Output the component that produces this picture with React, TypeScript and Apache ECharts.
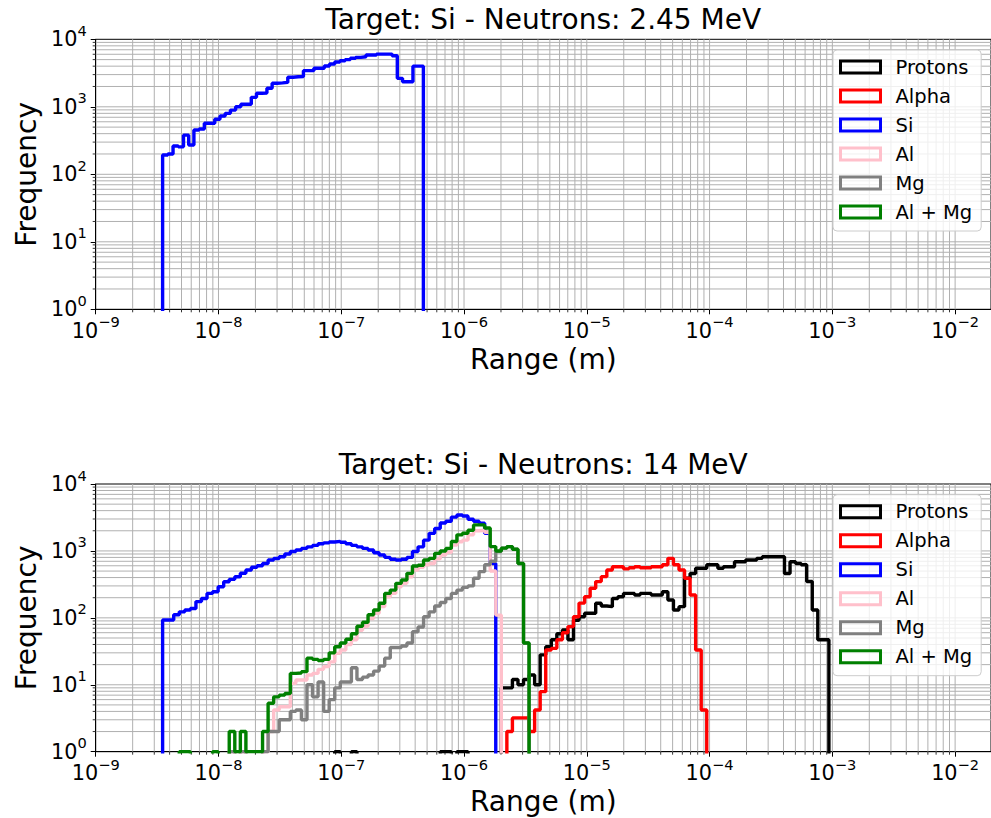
import React, { useEffect, useRef } from 'react';
import * as echarts from 'echarts';

// ---------------- data ----------------
const FONT = 'DejaVu Sans';
const SERIES_NAMES = ['Protons', 'Alpha', 'Si', 'Al', 'Mg', 'Al + Mg'];
const SERIES_COLORS = ['#000000', '#ff0000', '#0000ff', '#ffc0cb', '#808080', '#008000'];
const TITLES = ['Target: Si - Neutrons: 2.45 MeV', 'Target: Si - Neutrons: 14 MeV'];
const X_LABEL = 'Range (m)';
const Y_LABEL = 'Frequency';
const X_MIN = 1e-9;
const X_MAX = 0.0196;
const Y_MIN = 1;
const Y_MAX = 1e4;
const GRID_MULTIPLIERS = [1, 2, 3, 4, 5, 6, 7, 8, 9];
const X_DECADES = [-9, -8, -7, -6, -5, -4, -3, -2];
const Y_DECADES = [0, 1, 2, 3];

// log10 of first / last bin edge and number of bins (log-spaced histogram bins)
const TOP_BIN_LOG_START = -8.455;
const TOP_BIN_LOG_END = -6.331;
const TOP_BIN_COUNT = 50;
const BOTTOM_BIN_LOG_START = -8.455;
const BOTTOM_BIN_LOG_END = -3.028;
const BOTTOM_BIN_COUNT = 120;

// Top panel (2.45 MeV): only Si recoils
const TOP_SI = [
  193, 200, 262, 255, 380, 272, 453, 470, 570, 570,
  653, 731, 800, 893, 1000, 1090, 1090, 1380, 1585, 1600,
  1880, 2235, 2260, 2300, 2735, 2790, 2800, 3430, 3430, 3720,
  3720, 4030, 4310, 4610, 4800, 5000, 5230, 5400, 5520, 5850,
  5850, 6040, 6040, 6040, 5700, 2640, 2350, 2350, 4000, 4000,
];

// Bottom panel (14 MeV): counts per bin (trailing empty bins omitted)
const PROTONS = [
  0, 0, 0, 0, 0, 0, 0, 0, 0, 0,
  0, 0, 0, 0, 0, 0, 0, 0, 0, 0,
  0, 0, 0, 0, 0, 0, 0, 0, 0, 0,
  0, 1, 0, 0, 1, 0, 0, 0, 0, 0,
  0, 0, 0, 0, 0, 0, 0, 0, 0, 0,
  1, 1, 0, 1, 1, 0, 0, 0, 0, 0,
  0, 9, 9, 12, 10, 12, 14, 10, 28, 37,
  47, 58, 66, 47, 92, 104, 117, 117, 165, 150,
  147, 195, 207, 232, 232, 220, 232, 232, 220, 220,
  245, 185, 131, 147, 390, 460, 550, 550, 620, 620,
  550, 580, 580, 690, 690, 730, 730, 775, 820, 820,
  820, 820, 460, 690, 650, 620, 350, 131, 47, 47,
];
const ALPHA = [
  0, 0, 0, 0, 0, 0, 0, 0, 0, 0,
  0, 0, 0, 0, 0, 0, 0, 0, 0, 0,
  0, 0, 0, 0, 0, 0, 0, 0, 0, 0,
  0, 0, 0, 0, 0, 0, 0, 0, 0, 0,
  0, 0, 0, 0, 0, 0, 0, 0, 0, 0,
  0, 0, 0, 0, 0, 0, 0, 0, 0, 0,
  0, 0, 2, 3.2, 3.2, 3.2, 2, 4.2, 7.9, 33,
  35, 47, 60, 74, 104, 166, 207, 277, 348, 413,
  520, 580, 580, 540, 560, 580, 560, 560, 580, 580,
  620, 775, 620, 520, 390, 220, 33, 4.2,
];
const SI = [
  93, 93, 111, 123, 131, 138, 175, 195, 232, 245,
  292, 346, 376, 412, 463, 520, 570, 600, 650, 730,
  770, 820, 900, 980, 1030, 1090, 1150, 1210, 1280, 1320,
  1360, 1390, 1350, 1280, 1210, 1150, 1090, 1030, 940, 870,
  800, 750, 730, 750, 800, 980, 1150, 1450, 1830, 2160,
  2620, 2770, 3200, 3440, 3330, 2970, 2770, 2600, 1830, 650,
];
const AL = [
  0, 0, 0, 0, 0, 0, 0, 0, 0, 0,
  0, 0, 1, 0, 1, 0, 0, 0, 1, 2,
  4.2, 4.7, 4.7, 10.5, 11.8, 11.8, 14, 14.8, 17, 18.7,
  22, 29.5, 33, 40, 47, 65, 75, 98, 117, 147,
  207, 232, 292, 328, 412, 520, 570, 620, 650, 760,
  870, 950, 1220, 1370, 1450, 1740, 2000, 2040, 1900, 500,
  110,
];
const MG = [
  0, 0, 0, 0, 0, 0, 0, 0, 0, 0,
  0, 0, 1, 0, 1, 0, 0, 0, 1, 2,
  2, 3, 3, 4, 4.2, 3, 10, 6.6, 11, 4,
  6, 9, 11, 11, 18, 12, 13, 14, 16, 19,
  25, 36, 36, 38, 42, 62, 73, 104, 123, 150,
  170, 195, 232, 260, 285, 300, 390, 490, 620, 700,
  980, 1100, 1160, 1060, 650, 42,
];
const AL_MG = [
  0, 0, 0, 1, 1, 0, 0, 0, 0, 1,
  0, 0, 2, 1, 2, 1, 1, 1, 2, 5.3,
  6.6, 7, 7.4, 14.8, 15, 15.7, 25, 24, 23, 24,
  30, 37, 42, 48, 58, 75, 86, 111, 131, 165,
  232, 260, 328, 367, 462, 595, 610, 730, 775, 920,
  1000, 1090, 1380, 1740, 1840, 2040, 2450, 2450, 2200, 1160,
  1000, 1100, 1160, 1060, 650, 42,
];
const BOTTOM_SERIES = [PROTONS, ALPHA, SI, AL, MG, AL_MG];

// ---------------- helpers ----------------
const FLOOR = 0.01; // empty bins fall below the axis and get clipped

function histPoints(counts: number[], logStart: number, logEnd: number, nBins: number) {
  const w = (logEnd - logStart) / nBins;
  const edge = (i: number) => Math.pow(10, logStart + i * w);
  const pts: number[][] = [[edge(0), FLOOR]];
  for (let i = 0; i < nBins; i++) {
    const c = counts[i] ?? 0;
    pts.push([edge(i), c > 0 ? c : FLOOR]);
  }
  pts.push([edge(nBins), FLOOR]);
  return pts;
}

const supLabel = (v: number) => {
  const e = Math.round(Math.log10(v));
  return `{b|10}{s|${e < 0 ? '\u2212' + -e : e}}`;
};
const RICH = {
  b: { fontFamily: FONT, fontSize: 20.8, lineHeight: 27, verticalAlign: 'bottom', color: '#000' },
  s: { fontFamily: FONT, fontSize: 14.6, lineHeight: 15, verticalAlign: 'top', color: '#000' },
};

const GRID_COLOR = '#b0b0b0';

const X_GRID_VALUES: number[][] = [];
X_DECADES.forEach((d) =>
  GRID_MULTIPLIERS.forEach((m) => {
    const v = m * Math.pow(10, d);
    if (v > X_MIN * 1.0001 && v < X_MAX) X_GRID_VALUES.push([v, Y_MIN, m === 1 ? 1 : 0]);
  })
);
const Y_GRID_VALUES: number[][] = [];
Y_DECADES.forEach((d) =>
  GRID_MULTIPLIERS.forEach((m) => {
    const v = m * Math.pow(10, d);
    if (v > Y_MIN * 1.0001 && v < Y_MAX) Y_GRID_VALUES.push([X_MIN, v, m === 1 ? 1 : 0]);
  })
);

function gridSeries(gi: number) {
  return [
    {
      type: 'custom',
      name: '_xgrid' + gi,
      xAxisIndex: gi,
      yAxisIndex: gi,
      silent: true,
      clip: false,
      z: 1,
      data: X_GRID_VALUES,
      encode: { x: 0, y: 1 },
      renderItem: (_p: any, api: any) => {
        const v = api.value(0);
        const major = api.value(2) === 1;
        const b = api.coord([v, Y_MIN]);
        const t = api.coord([v, Y_MAX]);
        const children: any[] = [
          { type: 'line', shape: { x1: b[0], y1: b[1], x2: t[0], y2: t[1] }, style: { stroke: GRID_COLOR, lineWidth: 1 } },
        ];
        if (!major)
          children.push({ type: 'line', shape: { x1: b[0], y1: b[1], x2: b[0], y2: b[1] + 3 }, style: { stroke: '#000', lineWidth: 0.8 } });
        return { type: 'group', children };
      },
    },
    {
      type: 'custom',
      name: '_ygrid' + gi,
      xAxisIndex: gi,
      yAxisIndex: gi,
      silent: true,
      clip: false,
      z: 1,
      data: Y_GRID_VALUES,
      encode: { x: 0, y: 1 },
      renderItem: (_p: any, api: any) => {
        const v = api.value(1);
        const major = api.value(2) === 1;
        const l = api.coord([X_MIN, v]);
        const r = api.coord([X_MAX, v]);
        const children: any[] = [
          { type: 'line', shape: { x1: l[0], y1: l[1], x2: r[0], y2: r[1] }, style: { stroke: GRID_COLOR, lineWidth: 1 } },
        ];
        if (!major)
          children.push({ type: 'line', shape: { x1: l[0], y1: l[1], x2: l[0] - 3, y2: l[1] }, style: { stroke: '#000', lineWidth: 0.8 } });
        return { type: 'group', children };
      },
    },
  ];
}

function histSeries(name: string, color: string, gi: number, pts: number[][]) {
  return {
    type: 'line',
    name,
    xAxisIndex: gi,
    yAxisIndex: gi,
    data: pts,
    step: 'end',
    showSymbol: false,
    symbol: 'none',
    silent: true,
    clip: true,
    z: 3,
    lineStyle: { color, width: 3.4 },
    itemStyle: { color },
    emphasis: { disabled: true },
  };
}

function buildOption() {
  const gridLeft = 95.7;
  const gridWidth = 897;
  const gridTops = [39.3, 484];
  const gridHeights = [270, 267.7];
  const legendTops = [50, 494.7];

  const xAxes = [0, 1].map((gi) => ({
    type: 'log',
    logBase: 10,
    gridIndex: gi,
    min: X_MIN,
    max: X_MAX,
    name: X_LABEL,
    nameLocation: 'middle',
    nameGap: 36,
    nameTextStyle: { fontFamily: FONT, fontSize: 28, color: '#000' },
    axisLine: { show: true, onZero: false, lineStyle: { color: '#000', width: 1 } },
    axisTick: { show: true, inside: false, length: 5, lineStyle: { color: '#000', width: 1 } },
    axisLabel: { show: true, margin: 5, showMaxLabel: false, formatter: supLabel, rich: RICH },
    splitLine: { show: false },
  }));
  const yAxes = [0, 1].map((gi) => ({
    type: 'log',
    logBase: 10,
    gridIndex: gi,
    min: Y_MIN,
    max: Y_MAX,
    name: Y_LABEL,
    nameLocation: 'middle',
    nameGap: 51,
    nameTextStyle: { fontFamily: FONT, fontSize: 28, color: '#000' },
    axisLine: { show: true, onZero: false, lineStyle: { color: '#000', width: 1 } },
    axisTick: { show: true, inside: false, length: 5, lineStyle: { color: '#000', width: 1 } },
    axisLabel: { show: true, margin: 9, padding: [0, 0, 6, 0], formatter: supLabel, rich: RICH },
    splitLine: { show: false },
  }));

  const legendData = SERIES_NAMES.map((n, i) => ({
    name: n,
    itemStyle: { color: 'rgba(0,0,0,0)', borderColor: SERIES_COLORS[i], borderWidth: 3 },
  }));
  const legends = legendTops.map((top) => ({
    orient: 'vertical',
    left: 833,
    top,
    data: legendData,
    icon: 'rect',
    itemWidth: 40,
    itemHeight: 12,
    itemGap: 9,
    selectedMode: false,
    backgroundColor: 'rgba(255,255,255,0.8)',
    borderColor: '#cccccc',
    borderWidth: 1,
    borderRadius: 4,
    padding: [7, 9, 9, 6],
    textStyle: { fontFamily: FONT, fontSize: 19.5, color: '#000', lineHeight: 20, padding: [0, 0, 0, 10] },
  }));

  const series: any[] = [];
  series.push(...gridSeries(0), ...gridSeries(1));
  series.push(
    histSeries('Si', SERIES_COLORS[2], 0, histPoints(TOP_SI, TOP_BIN_LOG_START, TOP_BIN_LOG_END, TOP_BIN_COUNT))
  );
  BOTTOM_SERIES.forEach((counts, i) => {
    series.push(
      histSeries(
        SERIES_NAMES[i],
        SERIES_COLORS[i],
        1,
        histPoints(counts, BOTTOM_BIN_LOG_START, BOTTOM_BIN_LOG_END, BOTTOM_BIN_COUNT)
      )
    );
  });

  return {
    animation: false,
    backgroundColor: '#ffffff',
    title: TITLES.map((t, i) => ({
      text: t,
      left: gridLeft + gridWidth / 2 - 1,
      top: gridTops[i] - 34,
      textAlign: 'center',
      padding: 0,
      textStyle: { fontFamily: FONT, fontSize: 28, fontWeight: 'normal', color: '#000' },
    })),
    legend: legends,
    grid: gridTops.map((top, i) => ({
      left: gridLeft,
      top,
      width: gridWidth,
      height: gridHeights[i],
      show: true,
      borderColor: '#000',
      borderWidth: 1,
      backgroundColor: 'rgba(0,0,0,0)',
      containLabel: false,
    })),
    xAxis: xAxes,
    yAxis: yAxes,
    series,
  };
}

export default function App() {
  const ref = useRef<HTMLDivElement>(null);
  useEffect(() => {
    if (!ref.current) return;
    const chart = echarts.init(ref.current, undefined, { renderer: 'svg' });
    chart.setOption(buildOption() as any);
    return () => chart.dispose();
  }, []);
  return (
    <div
      ref={ref}
      style={{ position: 'fixed', left: 0, top: 0, width: 991, height: 818, background: '#fff' }}
    />
  );
}
